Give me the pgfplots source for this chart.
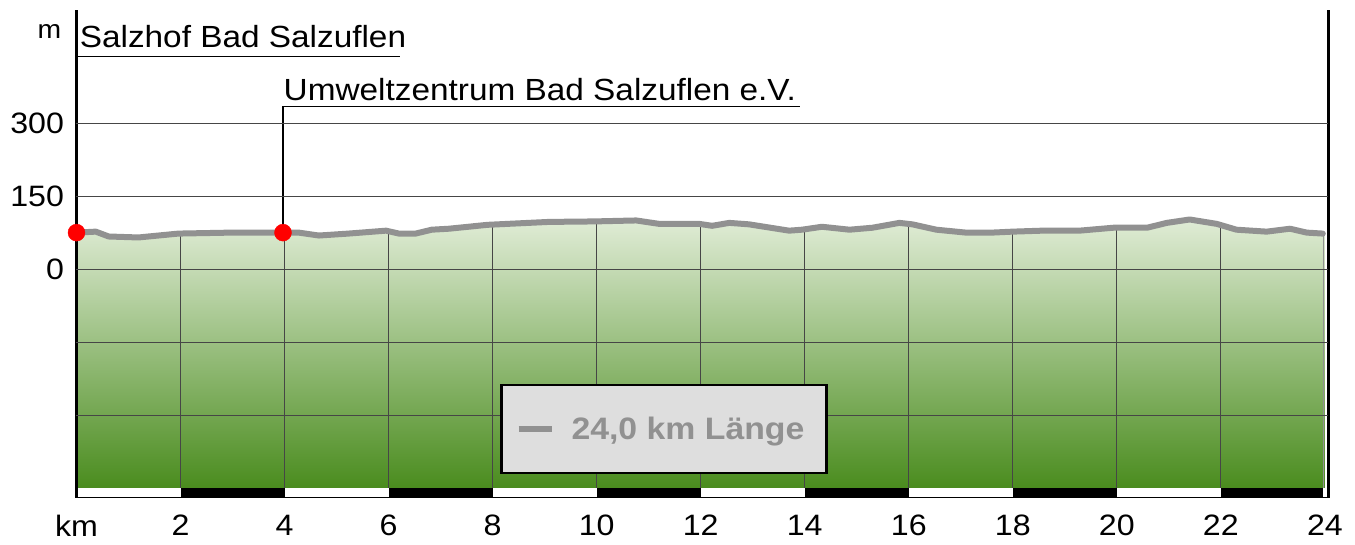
\documentclass[border=0pt]{standalone}
\usepackage{fontspec}
\setmainfont[FakeStretch=1.09]{Liberation Sans}
\usepackage{pgfplots}
\pgfplotsset{compat=1.18}
\definecolor{prof}{RGB}{145,145,145}
\definecolor{gtop}{RGB}{224,236,214}
\definecolor{gbot}{RGB}{74,140,30}
\definecolor{gridc}{RGB}{70,70,70}
\definecolor{legfill}{RGB}{222,222,222}
\begin{document}
\begin{tikzpicture}
\begin{axis}[
  scale only axis, width=1251.5pt, height=488pt,
  xmin=0, xmax=24.06, ymin=-470, ymax=534,
  clip=false,
  axis line style={draw=none},
  axis on top,
  xtick={0,2,4,6,8,10,12,14,16,18,20,22,24},
  xticklabels={km,2,4,6,8,10,12,14,16,18,20,22,24},
  ytick={-300,-150,0,150,300},
  yticklabels={,,0,150,300},
  ymajorgrids,
  major grid style={draw=gridc, line width=0.8pt},
  tick style={draw=none},
  /pgf/number format/assume math mode=true,
  ticklabel style={font=\fontsize{29.5}{34}\selectfont},
  yticklabel style={xshift=-9pt},
  xticklabel style={yshift=-17pt, inner ysep=0pt},
  legend style={at={(0.4694,0.1414)}, anchor=center, fill=legfill, draw=black,
    line width=2.5pt, inner xsep=14pt, inner ysep=32pt,
    nodes={inner sep=0pt},
    font=\fontsize{31}{36}\selectfont\bfseries},
  legend image code/.code={\draw[#1, line cap=butt] (0pt,0pt) -- (33pt,0pt); \path[draw=none] (0pt,0pt) -- (53pt,0pt);},
]
% terrain fill
\addplot[draw=none, top color=gtop, bottom color=gbot, forget plot] coordinates {
(0,76) (0.37,78) (0.62,68) (1.19,66) (1.96,74) (2.98,76) (3.95,76) (4.27,76)
(4.66,70) (5.23,74) (5.95,80) (6.20,74) (6.52,74) (6.83,82) (7.16,84) (7.9,92)
(9.08,98) (9.95,99) (10.76,101) (11.2,94) (11.97,94) (12.22,90) (12.55,96)
(12.93,93) (13.7,80) (13.95,82) (14.33,88) (14.86,82) (15.3,86) (15.82,96)
(16.07,93) (16.53,82) (17.1,76) (17.6,76) (18.0,78) (18.57,80) (19.28,80)
(19.93,86) (20.58,86) (20.96,96) (21.4,103) (21.92,94) (22.3,82) (22.88,78)
(23.33,84) (23.65,76) (24.0,74) (24.0,-450) (0,-450)};
% vertical grid lines inside the terrain
\draw[gridc, line width=0.8pt] (axis cs:2,-450) -- (axis cs:2,72);
\draw[gridc, line width=0.8pt] (axis cs:4,-450) -- (axis cs:4,76);
\draw[gridc, line width=0.8pt] (axis cs:6,-450) -- (axis cs:6,78);
\draw[gridc, line width=0.8pt] (axis cs:8,-450) -- (axis cs:8,90);
\draw[gridc, line width=0.8pt] (axis cs:10,-450) -- (axis cs:10,98);
\draw[gridc, line width=0.8pt] (axis cs:12,-450) -- (axis cs:12,92);
\draw[gridc, line width=0.8pt] (axis cs:14,-450) -- (axis cs:14,80);
\draw[gridc, line width=0.8pt] (axis cs:16,-450) -- (axis cs:16,92);
\draw[gridc, line width=0.8pt] (axis cs:18,-450) -- (axis cs:18,76);
\draw[gridc, line width=0.8pt] (axis cs:20,-450) -- (axis cs:20,84);
\draw[gridc, line width=0.8pt] (axis cs:22,-450) -- (axis cs:22,90);
\draw[prof, line width=0.8pt] (axis cs:23.97,-450) -- (axis cs:23.97,72);
% km strip
\fill[white] (axis cs:0,-450) rectangle (axis cs:24.06,-470);
\fill[black] (axis cs:2,-450) rectangle (axis cs:4,-470);
\fill[black] (axis cs:6,-450) rectangle (axis cs:8,-470);
\fill[black] (axis cs:10,-450) rectangle (axis cs:12,-470);
\fill[black] (axis cs:14,-450) rectangle (axis cs:16,-470);
\fill[black] (axis cs:18,-450) rectangle (axis cs:20,-470);
\fill[black] (axis cs:22,-450) rectangle (axis cs:23.97,-470);
\draw[black, line width=1.5pt] (axis cs:0,-469) -- (axis cs:24.06,-469);
% profile
\addplot[prof, line width=6pt, line join=round, line cap=round] coordinates {
(0,76) (0.37,78) (0.62,68) (1.19,66) (1.96,74) (2.98,76) (3.95,76) (4.27,76)
(4.66,70) (5.23,74) (5.95,80) (6.20,74) (6.52,74) (6.83,82) (7.16,84) (7.9,92)
(9.08,98) (9.95,99) (10.76,101) (11.2,94) (11.97,94) (12.22,90) (12.55,96)
(12.93,93) (13.7,80) (13.95,82) (14.33,88) (14.86,82) (15.3,86) (15.82,96)
(16.07,93) (16.53,82) (17.1,76) (17.6,76) (18.0,78) (18.57,80) (19.28,80)
(19.93,86) (20.58,86) (20.96,96) (21.4,103) (21.92,94) (22.3,82) (22.88,78)
(23.33,84) (23.65,76) (23.96,74)};
\addlegendentry{\textcolor{prof}{24,0 km Länge}\hspace*{8pt}}
% waypoint labels
\draw[black, line width=1.5pt] (axis cs:0,438) -- (axis cs:6.22,438);
\node[anchor=base west, inner sep=0pt, font=\fontsize{30.6}{36}\selectfont] at (axis cs:0.06,456) {Salzhof Bad Salzuflen};
\draw[black, line width=1.5pt] (axis cs:3.97,76) -- (axis cs:3.97,335) -- (axis cs:13.91,335);
\node[anchor=base west, inner sep=0pt, font=\fontsize{30.6}{36}\selectfont] at (axis cs:3.98,348) {Umweltzentrum Bad Salzuflen e.V.};
% waypoints
\addplot[only marks, mark=*, mark size=8.5pt, red, forget plot] coordinates {(0,76) (3.97,76)};
% axis lines
\draw[black, line width=3pt] (rel axis cs:0,0) -- (rel axis cs:0,1);
\draw[black, line width=3pt] (rel axis cs:1,0) -- (rel axis cs:1,1);
\node[anchor=base, inner sep=0pt, font=\fontsize{26}{30}\selectfont] at (axis cs:-0.52,476) {m};
\end{axis}
\path[use as bounding box] (-76.5pt,-47pt) rectangle (1278.5pt,498pt);
\end{tikzpicture}
\end{document}
